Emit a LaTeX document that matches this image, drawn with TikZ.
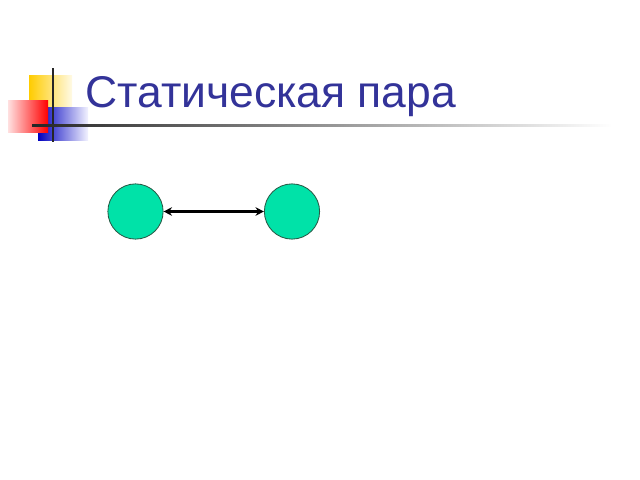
\documentclass[tikz,border=0pt]{standalone}
\usepackage{amsmath}
\usepackage{fontspec}
\setmainfont{Liberation Sans}
\usepackage{tikz}
\usetikzlibrary{arrows.meta}
\definecolor{titleblue}{RGB}{51,51,153}
\definecolor{ballgreen}{RGB}{0,226,168}
\definecolor{rimgreen}{RGB}{40,90,70}
\definecolor{logoyellow}{RGB}{255,204,0}

\begin{document}
\begin{tikzpicture}
            [x=0.025cm,y=-0.025cm,thick,
             every node/.style={circle,draw=rimgreen,fill=ballgreen,line width=0.6pt,minimum size=1.38cm,inner sep=0pt}]
            \useasboundingbox (0,0) rectangle (640,480);
            % the logo squares
            \shade[left color=logoyellow,right color=logoyellow!10] (29,75) rectangle (72,114);
            \shade[left color=blue!75!black,right color=blue!5] (38,107) rectangle (88,140);
            \shade[left color=red!12,right color=red] (8,100) rectangle (48,132);
            \draw[line width=1.6pt,black!85] (53,68) -- (53,142);
            \shade[left color=black!85,middle color=black!55,right color=white] (32,124.3) rectangle (612,126.7);
            % the title
            \node[rectangle,draw=none,fill=none,minimum size=0pt,anchor=base west,text=titleblue,
                  font=\fontsize{31.6}{37}\selectfont] (title) at (85,107) {Статическая пара};
            % the pair
            \node (a) at (135.5,211.5) {};
            \node (b) at (292,211.5) {};
            \draw[line width=2pt,{Stealth[length=6pt,width=6pt]}-{Stealth[length=6pt,width=6pt]}] (a) -- (b);
        \end{tikzpicture}
\end{document}
